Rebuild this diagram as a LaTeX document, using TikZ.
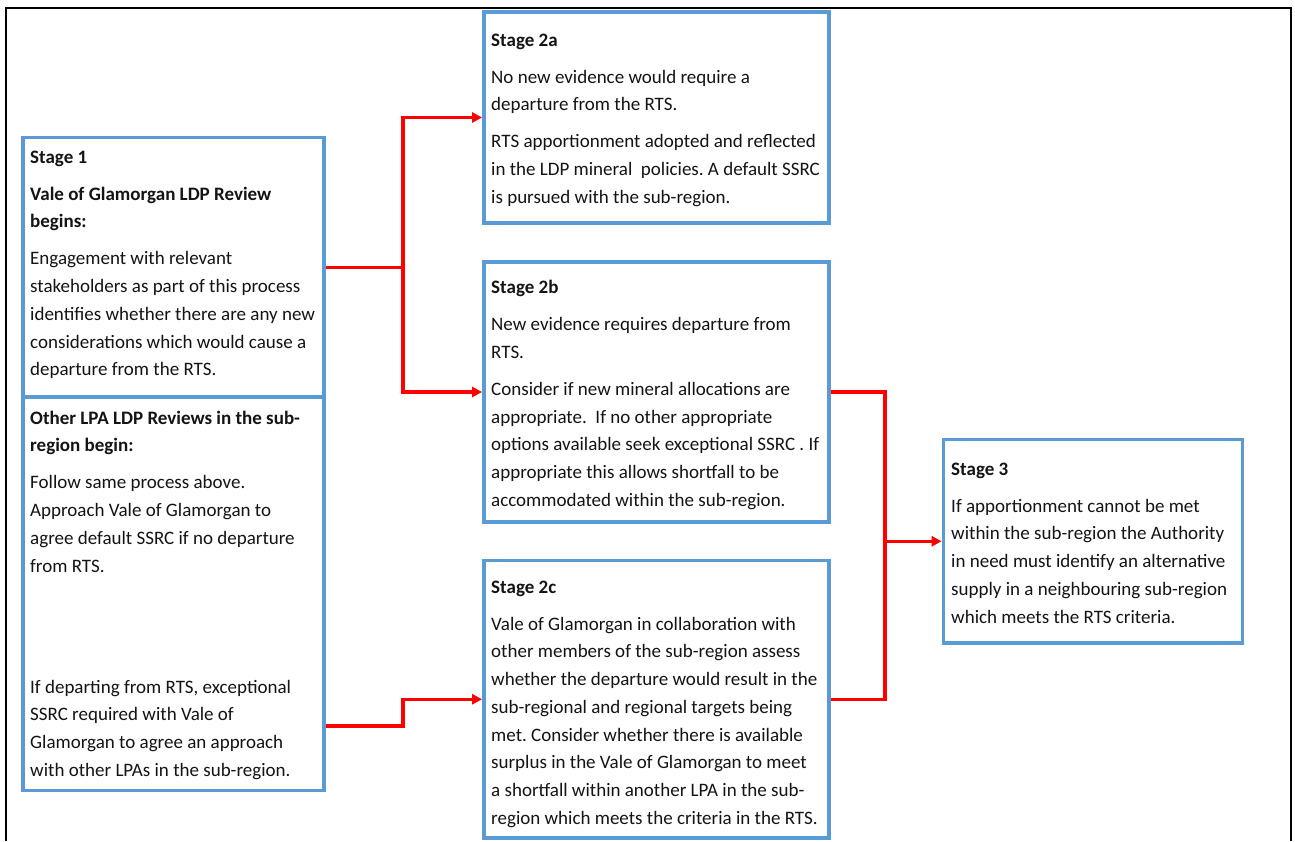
\documentclass[tikz,border=0pt]{standalone}
\usepackage{fontspec}
\setmainfont{Carlito}
\usetikzlibrary{arrows.meta}
\definecolor{boxblue}{HTML}{5B9BD5}
\definecolor{linered}{HTML}{FF0000}
\definecolor{txt}{HTML}{141414}
\newcommand{\firststrut}{\rule{0pt}{20pt}}
\frenchspacing
\begin{document}
\begin{tikzpicture}[x=1pt,y=-1pt,
  stagebox/.style={draw=boxblue,line width=3.8pt,rectangle,inner sep=0pt,fill=white},
  boxtext/.style={anchor=north west,inner sep=0pt,align=left,text=txt,
    font=\fontsize{19}{27.7}\selectfont},
  conn/.style={draw=linered,line width=3.2pt,-{Triangle[length=10pt,width=10pt]}},
  plainconn/.style={draw=linered,line width=3.2pt}]
\useasboundingbox (0,0) rectangle (1295,841);
% outer frame (open at the bottom)
\draw[line width=2pt,black] (6,841) -- (6,7.7) -- (1291,7.7) -- (1291,841);

% boxes
\node[stagebox,minimum width=301pt,minimum height=259.5pt] (s1) at (173.5,267.25) {};
\node[stagebox,minimum width=301pt,minimum height=393.5pt] (lpa) at (173.5,593.75) {};
\node[stagebox,minimum width=345pt,minimum height=211pt] (s2a) at (656.5,117.5) {};
\node[stagebox,minimum width=345pt,minimum height=260pt] (s2b) at (656.5,392) {};
\node[stagebox,minimum width=345pt,minimum height=277.5pt] (s2c) at (656.5,699.25) {};
\node[stagebox,minimum width=299pt,minimum height=203.5pt] (s3) at (1093,541.25) {};

% texts
\node[boxtext] (t1) at (30,143) {\firststrut\textbf{Stage 1}\\[9.3pt]
\textbf{Vale of Glamorgan LDP Review}\\
\textbf{begins:}\\[9.3pt]
Engagement with relevant\\
stakeholders as part of this process\\
identifies whether there are any new\\
considerations which would cause a\\
departure from the RTS.};

\node[boxtext] (tlpa) at (30,404) {\firststrut\textbf{Other LPA LDP Reviews in the sub-}\\
\textbf{region begin:}\\[9.3pt]
Follow same process above.\\
Approach Vale of Glamorgan to\\
agree default SSRC if no departure\\
from RTS.\\[93.3pt]
If departing from RTS, exceptional\\
SSRC required with Vale of\\
Glamorgan to agree an approach\\
with other LPAs in the sub-region.};

\node[boxtext] (t2a) at (491,26) {\firststrut\textbf{Stage 2a}\\[9.3pt]
No new evidence would require a\\
departure from the RTS.\\[9.3pt]
RTS apportionment adopted and reflected\\
in the LDP mineral~ policies. A default SSRC\\
is pursued with the sub-region.};

\node[boxtext] (t2b) at (491,273.5) {\firststrut\textbf{Stage 2b}\\[9.3pt]
New evidence requires departure from\\
RTS.\\[9.3pt]
Consider if new mineral allocations are\\
appropriate.~ If no other appropriate\\
options available seek exceptional SSRC . If\\
appropriate this allows shortfall to be\\
accommodated within the sub-region.};

\node[boxtext] (t2c) at (491,573) {\firststrut\textbf{Stage 2c}\\[9.3pt]
Vale of Glamorgan in collaboration with\\
other members of the sub-region assess\\
whether the departure would result in the\\
sub-regional and regional targets being\\
met. Consider whether there is available\\
surplus in the Vale of Glamorgan to meet\\
a shortfall within another LPA in the sub-\\
region which meets the criteria in the RTS.};

\node[boxtext] (t3) at (951,455) {\firststrut\textbf{Stage 3}\\[9.3pt]
If apportionment cannot be met\\
within the sub-region the Authority\\
in need must identify an alternative\\
supply in a neighbouring sub-region\\
which meets the RTS criteria.};

% connector junctions
\coordinate (j1) at (403,267.25);
\coordinate (lpaout) at (lpa.east |- 0,726);
\coordinate (j3) at (885,541.25);

% connectors
\draw[plainconn] (s1.east) -- (j1);
\draw[conn] (j1) |- (s2a.west);
\draw[conn] (j1) |- (s2b.west);
\draw[conn] (lpaout) -- (lpaout -| j1) |- (s2c.west);
\draw[plainconn] (s2b.east) -| (j3);
\draw[plainconn] (s2c.east) -| (j3);
\draw[conn] (j3) -- (s3.west);
\end{tikzpicture}
\end{document}
